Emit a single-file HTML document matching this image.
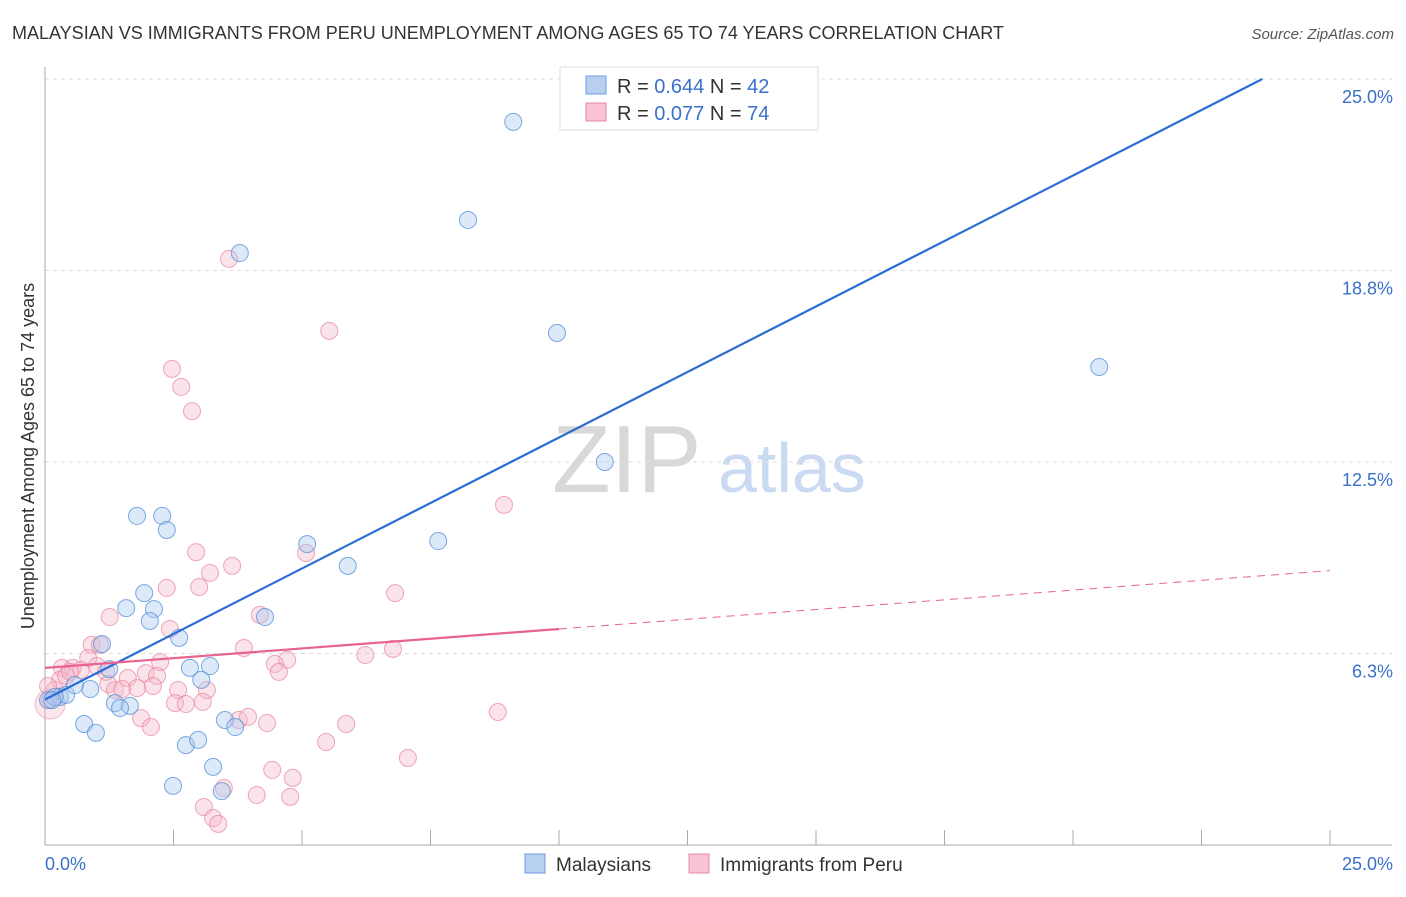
<!DOCTYPE html>
<html><head><meta charset="utf-8"><style>
body{margin:0;background:#fff;font-family:"Liberation Sans",sans-serif;}
svg text{font-family:"Liberation Sans",sans-serif;}
</style></head><body>
<svg id="chart" width="1406" height="892" viewBox="0 0 1406 892" xmlns="http://www.w3.org/2000/svg">
<text x="12" y="39" font-size="18" fill="#333">MALAYSIAN VS IMMIGRANTS FROM PERU UNEMPLOYMENT AMONG AGES 65 TO 74 YEARS CORRELATION CHART</text>
<text x="1394" y="39" font-size="15" fill="#555" font-style="italic" text-anchor="end">Source: ZipAtlas.com</text>
<text transform="translate(34,456) rotate(-90)" font-size="18" fill="#333" text-anchor="middle">Unemployment Among Ages 65 to 74 years</text>
<g>
<text x="552" y="492" font-size="96" fill="#d8d8d8" font-family="Liberation Serif,serif">ZIP</text>
<text x="718" y="492" font-size="70" fill="#c9daf2">atlas</text>
</g>
<g id="grid"></g>
<g id="axes"></g>
<g id="pts"></g>
<g id="lines"></g>
<g>
<rect x="560" y="67" width="258" height="63" fill="#fff" stroke="#ddd"/>
<rect x="586" y="76" width="20" height="18" fill="#b7d0f2" stroke="#6d9be0"/>
<rect x="586" y="103" width="20" height="18" fill="#f8c4d4" stroke="#e58aa7"/>
<text x="617" y="93" font-size="20" fill="#333">R = <tspan fill="#3a70cc">0.644</tspan>   N = <tspan fill="#3a70cc">42</tspan></text>
<text x="617" y="120" font-size="20" fill="#333">R = <tspan fill="#3a70cc">0.077</tspan>   N = <tspan fill="#3a70cc">74</tspan></text>
</g>
<g>
<rect x="525" y="854" width="20" height="19" fill="#b7d0f2" stroke="#6d9be0"/>
<text x="556" y="871" font-size="19" fill="#333">Malaysians</text>
<rect x="689" y="854" width="20" height="19" fill="#f8c4d4" stroke="#e58aa7"/>
<text x="720" y="871" font-size="19" fill="#333">Immigrants from Peru</text>
</g>
</svg>
<script>
const yTicks=[6.25,12.5,18.75,25];
const yTickLabels=["6.3%","12.5%","18.8%","25.0%"];
const xTickLabels=["0.0%","25.0%"];
const blueX=[9.11,8.23,3.79,9.96,20.51,10.89,1.79,2.28,2.37,5.10,7.65,5.89,1.93,1.58,2.12,2.04,4.28,2.61,1.11,1.25,2.82,3.21,3.04,0.88,0.06,0.29,0.41,0.58,1.36,1.65,1.46,0.76,0.99,3.50,3.70,2.74,2.98,3.27,2.49,3.44,0.19,0.14];
const blueY=[23.60,20.40,19.32,16.71,15.60,12.50,10.74,10.74,10.28,9.82,9.92,9.11,8.22,7.73,7.70,7.31,7.44,6.76,6.56,5.74,5.78,5.84,5.39,5.09,4.73,4.83,4.90,5.22,4.63,4.54,4.47,3.95,3.66,4.08,3.85,3.26,3.43,2.55,1.93,1.76,4.83,4.73];
const pinkX=[3.58,5.53,2.47,2.65,2.86,8.93,2.94,3.64,3.21,5.08,2.37,3.00,6.81,1.26,4.18,2.43,0.91,1.07,3.87,6.23,6.77,0.84,4.71,2.24,4.47,4.55,0.33,0.54,0.70,1.01,1.19,1.61,1.96,2.18,2.10,1.79,1.23,1.36,1.50,2.59,3.15,2.53,2.74,3.07,8.81,1.87,2.06,3.77,3.95,4.32,5.86,5.47,7.06,4.42,4.82,3.48,4.12,4.77,3.09,3.27,3.37,0.10,0.19,0.29,0.06,0.41,0.49];
const pinkY=[19.13,16.78,15.54,14.95,14.16,11.10,9.56,9.11,8.88,9.53,8.39,8.42,8.22,7.44,7.51,7.05,6.53,6.53,6.43,6.20,6.40,6.10,6.04,5.97,5.91,5.65,5.78,5.78,5.71,5.84,5.65,5.45,5.61,5.52,5.19,5.12,5.25,5.06,5.09,5.06,5.06,4.63,4.60,4.67,4.34,4.14,3.85,4.08,4.18,3.98,3.95,3.36,2.84,2.45,2.19,1.86,1.63,1.57,1.24,0.88,0.69,4.73,5.06,5.39,5.19,5.52,5.65];
const blueTrend=[4.75,0.855];
const pinkTrend=[5.78,0.127];
const NS="http://www.w3.org/2000/svg";
const X0=45,X1=1330,Y0=845,Y1=79;
function sx(v){return X0+(X1-X0)*v/25;}
function sy(v){return Y0-(Y0-Y1)*v/25;}
function mk(tag,attrs,parent){const e=document.createElementNS(NS,tag);for(const k in attrs)e.setAttribute(k,attrs[k]);parent.appendChild(e);return e;}
const grid=document.getElementById('grid'),axes=document.getElementById('axes'),pts=document.getElementById('pts'),lines=document.getElementById('lines');
yTicks.forEach((t,i)=>{
 const g=mk('line',{x1:X0,x2:1392,y1:sy(t),y2:sy(t),stroke:'#ddd','stroke-dasharray':'4,4'},grid);
 
 
 const tx=mk('text',{x:1393,y:sy(t)+24,'font-size':18,fill:'#3a70cc','text-anchor':'end'},axes);
 tx.textContent=yTickLabels[i];
 
 
});
mk('line',{x1:X0,x2:X0,y1:67,y2:Y0,stroke:'#aaa'},axes);
mk('line',{x1:X0,x2:1392,y1:Y0,y2:Y0,stroke:'#aaa'},axes);
for(let i=1;i<=10;i++){const t=mk('line',{x1:sx(i*2.5),x2:sx(i*2.5),y1:Y0,y2:Y0-15,stroke:'#aaa'},axes);
 
 }
const xl0=mk('text',{x:45,y:870,'font-size':18,fill:'#3a70cc'},axes);xl0.textContent=xTickLabels[0];


const xl1=mk('text',{x:1393,y:870,'font-size':18,fill:'#3a70cc','text-anchor':'end'},axes);xl1.textContent=xTickLabels[1];


mk('circle',{cx:sx(0.1),cy:sy(4.6),r:15,fill:'#f5b8cb','fill-opacity':0.35,stroke:'#e8819f','stroke-opacity':0.5},pts);
pinkX.forEach((x,i)=>{const c=mk('circle',{cx:sx(x),cy:sy(pinkY[i]),r:8.5,fill:'#f5b8cb','fill-opacity':0.4,stroke:'#e8819f','stroke-opacity':0.7},pts);
 
 });
blueX.forEach((x,i)=>{const c=mk('circle',{cx:sx(x),cy:sy(blueY[i]),r:8.5,fill:'#a8c8f0','fill-opacity':0.4,stroke:'#5b93d9','stroke-opacity':0.8},pts);
 
 });
const bxEnd=(25-blueTrend[0])/blueTrend[1];
const bl=mk('line',{x1:sx(0),y1:sy(blueTrend[0]),x2:sx(bxEnd),y2:sy(25),stroke:'#2a6dd4','stroke-width':2.2},lines);


const pl=mk('line',{x1:sx(0),y1:sy(pinkTrend[0]),x2:sx(10),y2:sy(pinkTrend[0]+pinkTrend[1]*10),stroke:'#e8638f','stroke-width':2.2},lines);


const pd=mk('line',{x1:sx(10),y1:sy(pinkTrend[0]+pinkTrend[1]*10),x2:sx(25),y2:sy(pinkTrend[0]+pinkTrend[1]*25),stroke:'#e8638f','stroke-width':1,'stroke-dasharray':'8,6'},lines);


</script>
</body></html>
